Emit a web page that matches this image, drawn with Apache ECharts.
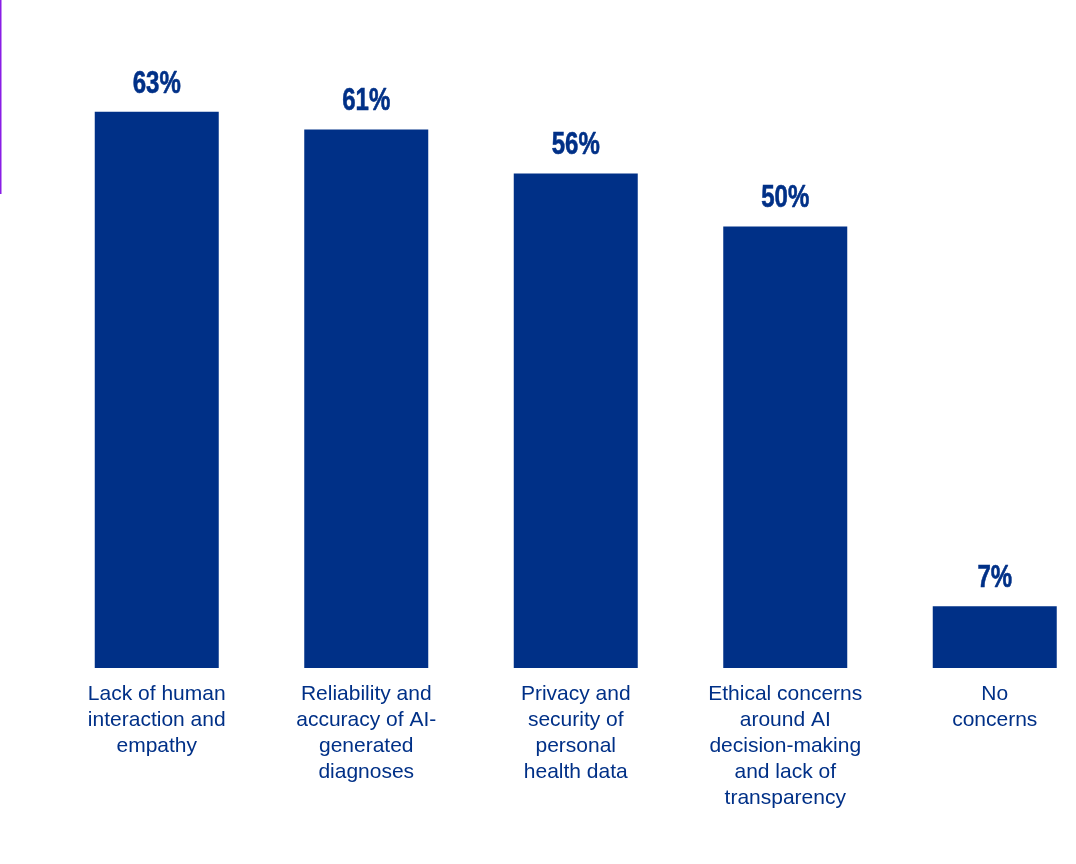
<!DOCTYPE html>
<html>
<head>
<meta charset="utf-8">
<script src="https://cdn.jsdelivr.net/npm/echarts@6/dist/echarts.min.js"></script>
<style>
  html, body { margin: 0; padding: 0; background: #ffffff; }
  #chart { width: 1076px; height: 864px; }
</style>
</head>
<body>
<div id="chart"></div>
<script>
// Concerns about AI in healthcare (% of respondents)
const categories = [
  'Lack of human\ninteraction and\nempathy',
  'Reliability and\naccuracy of AI-\ngenerated\ndiagnoses',
  'Privacy and\nsecurity of\npersonal\nhealth data',
  'Ethical concerns\naround AI\ndecision-making\nand lack of\ntransparency',
  'No\nconcerns'
];
const values = [63, 61, 56, 50, 7];

const navy = '#003087';

const chart = echarts.init(document.getElementById('chart'));
chart.setOption({
  backgroundColor: '#ffffff',
  animation: false,
  grid: {
    left: 52, width: 1047.5, top: 50, bottom: 196,
    containLabel: false, outerBoundsMode: 'none'
  },
  xAxis: {
    type: 'category',
    data: categories,
    axisLine: { show: false },
    axisTick: { show: false },
    axisLabel: {
      interval: 0,
      margin: 13,
      color: navy,
      fontFamily: '"Liberation Sans", Arial, sans-serif',
      fontSize: 21,
      lineHeight: 26,
      align: 'center',
      verticalAlign: 'top'
    }
  },
  yAxis: {
    type: 'value',
    min: 0,
    max: 70,
    show: false,
    splitLine: { show: false }
  },
  series: [{
    type: 'bar',
    data: values,
    barWidth: 124,
    itemStyle: { color: navy }
  }, {
    // condensed bold value labels above each bar
    type: 'custom',
    data: values.map((v, i) => [i, v]),
    silent: true,
    renderItem: function (params, api) {
      const p = api.coord([api.value(0), api.value(1)]);
      return {
        type: 'text',
        x: p[0],
        y: p[1] - 12,
        scaleX: 0.75,
        style: {
          text: api.value(1) + '%',
          fill: navy,
          stroke: navy,
          lineWidth: 0.6,
          font: 'bold 32px "Liberation Sans", Arial, sans-serif',
          align: 'center',
          verticalAlign: 'bottom'
        }
      };
    }
  }],
  graphic: [{
    type: 'rect',
    left: 0,
    top: 0,
    shape: { x: 0, y: 0, width: 1.5, height: 194 },
    style: { fill: '#8a1ee6' },
    silent: true
  }]
});
</script>
</body>
</html>
